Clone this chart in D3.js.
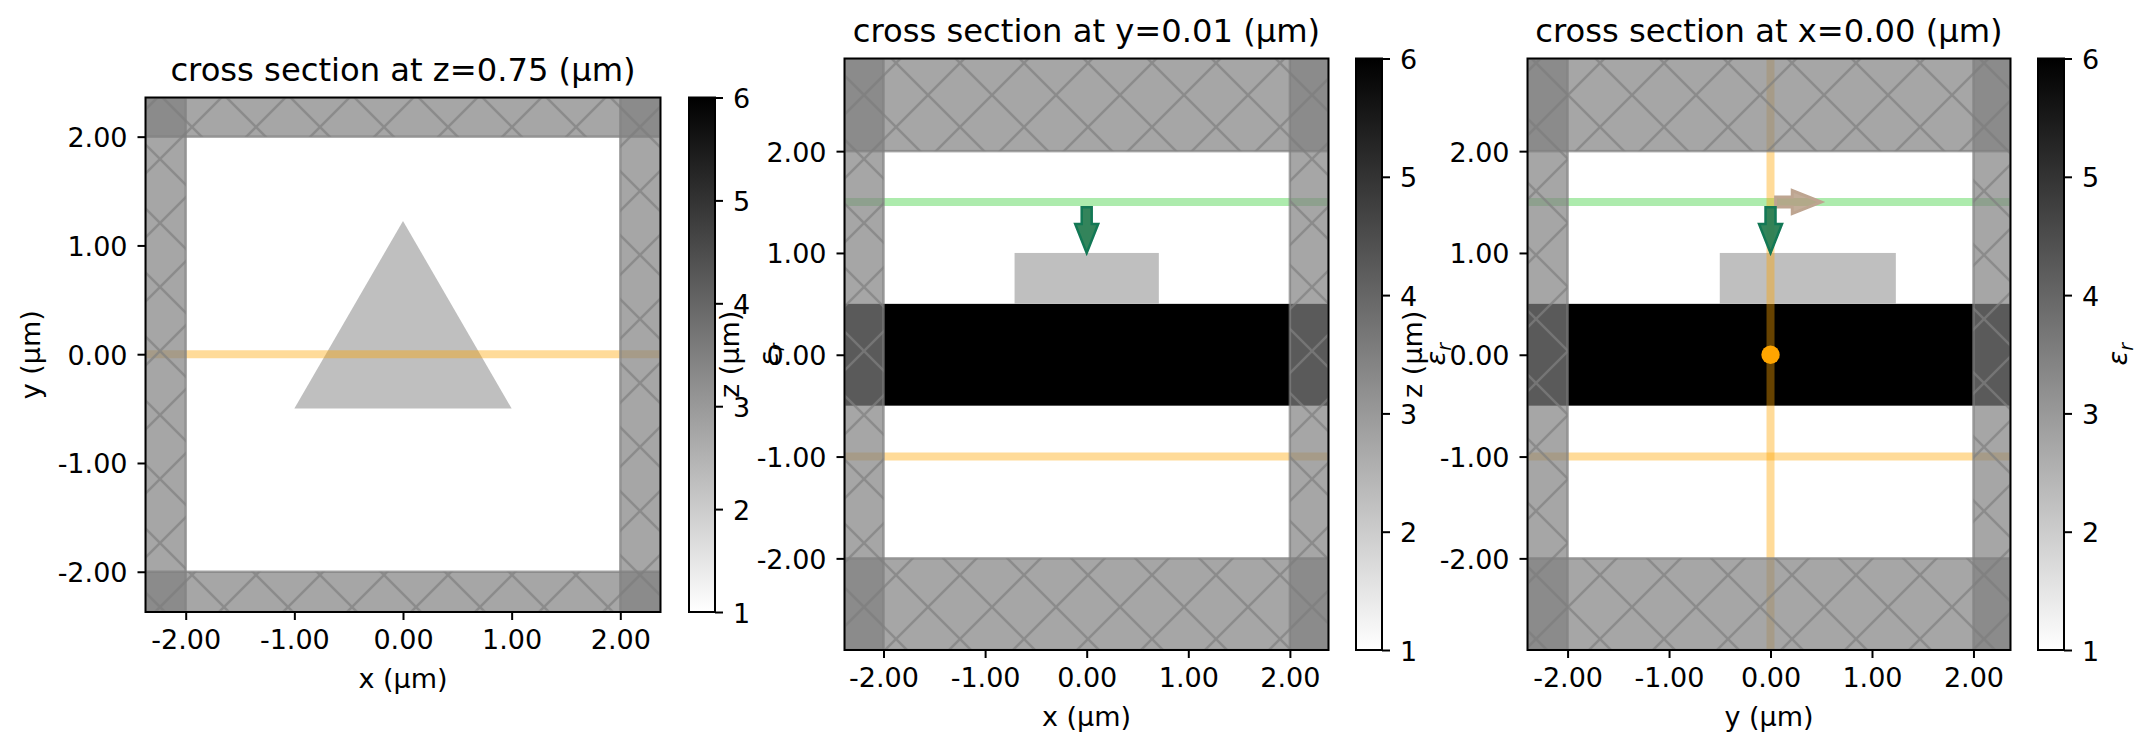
<!DOCTYPE html>
<html>
<head>
<meta charset="utf-8">
<script src="https://cdn.jsdelivr.net/npm/d3@7"></script>
<style>
  html, body { margin: 0; padding: 0; background: #fff; }
  svg { display: block; font-family: "DejaVu Sans", sans-serif; }
</style>
</head>
<body>
<div id="chart"></div>
<script>
// Values
const epsTicks = [1, 2, 3, 4, 5, 6];
const axisTicks = [-2, -1, 0, 1, 2];
const titles = ['cross section at z=0.75 (µm)', 'cross section at y=0.01 (µm)', 'cross section at x=0.00 (µm)'];
const xLabels = ['x (µm)', 'x (µm)', 'y (µm)'];
const yLabels = ['y (µm)', 'z (µm)', 'z (µm)'];
const xDomains = [[-2.37, 2.37], [-2.384, 2.38], [-2.395, 2.365]];
const yDomains = [[-2.37, 2.36], [-2.9, 2.91], [-2.9, 2.91]];

const pmlInner = 2;
const triangle = [[-1, -0.5], [1, -0.5], [0, 1.225]];          // panel 1, eps 2.25
const slabEps = 6;
const structEps = 2.25;
const slabZ = [-0.5, 0.5];
const structZ = [0.5, 1];
const structX = [-0.71, 0.71];     // panel 2
const structY = [-0.5, 1.235];     // panel 3

const hLinesOrange = [[0], [-1], [-1]];
const hLinesGreen = [[], [1.5], [1.5]];
const vLinesOrange = [[], [], [0]];
const dots = [[], [], [[0, 0]]];
// [x0, y0, x1, y1]
const greenArrows = [[], [[0, 1.45, 0, 1.0]], [[0, 1.45, 0, 1.0]]];
const tanArrows = [[], [], [[0.05, 1.5, 0.5, 1.5]]];

// Layout, in page pixels
const W = 2155, H = 753;
const boxes = [
  { left: 145.5, right: 660.5, top: 97.5, bottom: 612, cbLeft: 689, cbRight: 715, titleY: 81, xLabelY: 688 },
  { left: 844.5, right: 1328.5, top: 58.5, bottom: 650, cbLeft: 1356, cbRight: 1382, titleY: 42, xLabelY: 726 },
  { left: 1527.5, right: 2010.5, top: 58.5, bottom: 650, cbLeft: 2038, cbRight: 2064, titleY: 42, xLabelY: 726 }
];
const yLabelOffset = 105.5, cbLabelOffset = 63;

const tickFont = 27, titleFont = 32.2;
const gray = 'rgb(128,128,128)';
const pmlAlpha = 0.7, lineAlpha = 0.4, lineWidth = 8;

const colorScaler = d3.scaleLinear([1, 6], ['#ffffff', '#000000']);

const svg = d3.select('#chart').append('svg')
  .attr('width', W).attr('height', H);
svg.append('rect').attr('width', W).attr('height', H).attr('fill', '#fff');

const defs = svg.append('defs');

// Hatch tile sits on one page-wide grid, same as the original
const hatch = defs.append('pattern')
  .attr('id', 'pml-hatch')
  .attr('patternUnits', 'userSpaceOnUse')
  .attr('width', 64).attr('height', 64)
  .attr('patternTransform', 'translate(32,31)');
[[-8, -8, 72, 72], [-8, 72, 72, -8], [-8, 8, 8, -8], [56, 72, 72, 56], [-8, 56, 8, 72], [56, -8, 72, 8]].forEach(l => {
  hatch.append('line')
    .attr('x1', l[0]).attr('y1', l[1]).attr('x2', l[2]).attr('y2', l[3])
    .attr('stroke', gray).attr('stroke-width', 2.5);
});

const grad = defs.append('linearGradient')
  .attr('id', 'eps-grad')
  .attr('x1', 0).attr('y1', 1).attr('x2', 0).attr('y2', 0);
grad.selectAll('stop').data(d3.extent(epsTicks)).enter().append('stop')
  .attr('offset', d => (d - 1) / 5)
  .attr('stop-color', d => colorScaler(d));

function styleAxis(sel) {
  sel.selectAll('.domain').remove();
  sel.selectAll('.tick line').attr('stroke', '#000').attr('stroke-width', 2);
  sel.selectAll('.tick text').attr('fill', '#000').attr('font-size', tickFont)
    .attr('font-family', '"DejaVu Sans", sans-serif');
}
// matplotlib centres the digits a bit lower than d3 does
function lowerLabels(sel) {
  sel.selectAll('.tick text').attr('dy', '0.37em');
}

const fmt = d => d3.format('.2f')(d).replace('\u2212', '-');

function arrowPath(x0, y0, x1, y1) {
  // Shaft + head in pixels, along the x0,y0 -> x1,y1 direction
  const dx = x1 - x0, dy = y1 - y0;
  const len = Math.hypot(dx, dy);
  const ux = dx / len, uy = dy / len;
  const nx = -uy, ny = ux;
  const hl = 29, hw = 11.5, sw = 5;
  const p = (a, n) => [x0 + ux * a + nx * n, y0 + uy * a + ny * n];
  return d3.line()([
    p(0, sw), p(len - hl, sw), p(len - hl, hw), p(len, 0),
    p(len - hl, -hw), p(len - hl, -sw), p(0, -sw)
  ]) + 'Z';
}

boxes.forEach((b, i) => {
  const x = d3.scaleLinear(xDomains[i], [b.left, b.right]);
  const y = d3.scaleLinear(yDomains[i], [b.bottom, b.top]);
  const g = svg.append('g');

  const clipId = 'clip-' + i;
  defs.append('clipPath').attr('id', clipId).append('rect')
    .attr('x', b.left).attr('y', b.top)
    .attr('width', b.right - b.left).attr('height', b.bottom - b.top);

  const plot = g.append('g').attr('clip-path', `url(#${clipId})`);
  plot.append('rect')
    .attr('x', b.left).attr('y', b.top)
    .attr('width', b.right - b.left).attr('height', b.bottom - b.top)
    .attr('fill', '#fff');

  // Structures
  if (i === 0) {
    plot.append('path')
      .attr('d', d3.line().x(d => x(d[0])).y(d => y(d[1]))(triangle) + 'Z')
      .attr('fill', colorScaler(structEps));
  } else {
    plot.append('rect')
      .attr('x', b.left).attr('width', b.right - b.left)
      .attr('y', y(slabZ[1])).attr('height', y(slabZ[0]) - y(slabZ[1]))
      .attr('fill', colorScaler(slabEps));
    const sx = i === 1 ? structX : structY;
    plot.append('rect')
      .attr('x', x(sx[0])).attr('width', x(sx[1]) - x(sx[0]))
      .attr('y', y(structZ[1])).attr('height', y(structZ[0]) - y(structZ[1]))
      .attr('fill', colorScaler(structEps));
  }

  // Source / monitor lines
  plot.selectAll('.green-line').data(hLinesGreen[i]).enter().append('line')
    .attr('x1', b.left).attr('x2', b.right)
    .attr('y1', d => y(d)).attr('y2', d => y(d))
    .attr('stroke', 'limegreen').attr('stroke-opacity', lineAlpha).attr('stroke-width', lineWidth);
  plot.selectAll('.orange-line').data(hLinesOrange[i]).enter().append('line')
    .attr('x1', b.left).attr('x2', b.right)
    .attr('y1', d => y(d)).attr('y2', d => y(d))
    .attr('stroke', 'orange').attr('stroke-opacity', lineAlpha).attr('stroke-width', lineWidth);
  plot.selectAll('.orange-vline').data(vLinesOrange[i]).enter().append('line')
    .attr('y1', b.top).attr('y2', b.bottom)
    .attr('x1', d => x(d)).attr('x2', d => x(d))
    .attr('stroke', 'orange').attr('stroke-opacity', lineAlpha).attr('stroke-width', lineWidth);

  // PML bars go on top of the lines
  const [xa, xb] = xDomains[i], [ya, yb] = yDomains[i];
  const bars = [
    [xa, -pmlInner, ya, yb], [pmlInner, xb, ya, yb],
    [xa, xb, ya, -pmlInner], [xa, xb, pmlInner, yb]
  ];
  bars.forEach(r => {
    const rx = x(r[0]), rw = x(r[1]) - x(r[0]), ry = y(r[3]), rh = y(r[2]) - y(r[3]);
    plot.append('rect').attr('x', rx).attr('y', ry).attr('width', rw).attr('height', rh)
      .attr('fill', gray).attr('fill-opacity', pmlAlpha);
    plot.append('rect').attr('x', rx).attr('y', ry).attr('width', rw).attr('height', rh)
      .attr('fill', 'url(#pml-hatch)').attr('opacity', pmlAlpha);
    plot.append('rect').attr('x', rx).attr('y', ry).attr('width', rw).attr('height', rh)
      .attr('fill', 'none').attr('stroke', gray).attr('stroke-opacity', pmlAlpha).attr('stroke-width', 2.5);
  });

  // Arrows and dipole
  tanArrows[i].forEach(a => {
    plot.append('path').attr('d', arrowPath(x(a[0]), y(a[1]), x(a[2]), y(a[3])))
      .attr('fill', 'rgb(179,152,128)').attr('fill-opacity', 0.8)
      .attr('stroke', 'rgb(190,165,145)').attr('stroke-width', 3).attr('stroke-linejoin', 'miter');
  });
  greenArrows[i].forEach(a => {
    plot.append('path').attr('d', arrowPath(x(a[0]), y(a[1]), x(a[2]), y(a[3])))
      .attr('fill', 'rgb(40,125,82)').attr('fill-opacity', 0.95)
      .attr('stroke', 'rgb(18,120,85)').attr('stroke-width', 2.5).attr('stroke-linejoin', 'miter');
  });
  plot.selectAll('.dot').data(dots[i]).enter().append('circle')
    .attr('cx', d => x(d[0])).attr('cy', d => y(d[1])).attr('r', 9.2)
    .attr('fill', 'orange');

  // Frame and axes
  g.append('rect')
    .attr('x', b.left).attr('y', b.top)
    .attr('width', b.right - b.left).attr('height', b.bottom - b.top)
    .attr('fill', 'none').attr('stroke', '#000').attr('stroke-width', 2);

  g.append('g').attr('transform', `translate(0,${b.bottom})`)
    .call(d3.axisBottom(x).tickValues(axisTicks).tickFormat(fmt).tickSize(8).tickPadding(10))
    .call(styleAxis);
  g.append('g').attr('transform', `translate(${b.left},0)`)
    .call(d3.axisLeft(y).tickValues(axisTicks).tickFormat(fmt).tickSize(8).tickPadding(10))
    .call(styleAxis).call(lowerLabels);

  g.append('text').attr('x', (b.left + b.right) / 2).attr('y', b.titleY)
    .attr('text-anchor', 'middle').attr('font-size', titleFont).text(titles[i]);
  g.append('text').attr('x', (b.left + b.right) / 2).attr('y', b.xLabelY)
    .attr('text-anchor', 'middle').attr('font-size', tickFont).text(xLabels[i]);

  const midY = (b.top + b.bottom) / 2;
  g.append('text')
    .attr('transform', `translate(${b.left - yLabelOffset},${midY}) rotate(-90)`)
    .attr('text-anchor', 'middle')
    .attr('font-size', tickFont).text(yLabels[i]);

  // Colour bar
  const cy = d3.scaleLinear([1, 6], [b.bottom, b.top]);
  g.append('rect')
    .attr('x', b.cbLeft).attr('y', b.top)
    .attr('width', b.cbRight - b.cbLeft).attr('height', b.bottom - b.top)
    .attr('fill', 'url(#eps-grad)').attr('stroke', '#000').attr('stroke-width', 2);
  g.append('g').attr('transform', `translate(${b.cbRight},0)`)
    .call(d3.axisRight(cy).tickValues(epsTicks).tickFormat(d3.format('d')).tickSize(8).tickPadding(10))
    .call(styleAxis).call(lowerLabels);

  const eps = g.append('text')
    .attr('transform', `translate(${b.cbRight + cbLabelOffset},${midY}) rotate(-90)`)
    .attr('text-anchor', 'middle')
    .attr('font-size', tickFont).attr('font-style', 'italic');
  eps.append('tspan').text('ε');
  eps.append('tspan').attr('dy', 6).attr('font-size', tickFont * 0.7).text('r');
});
</script>
</body>
</html>
